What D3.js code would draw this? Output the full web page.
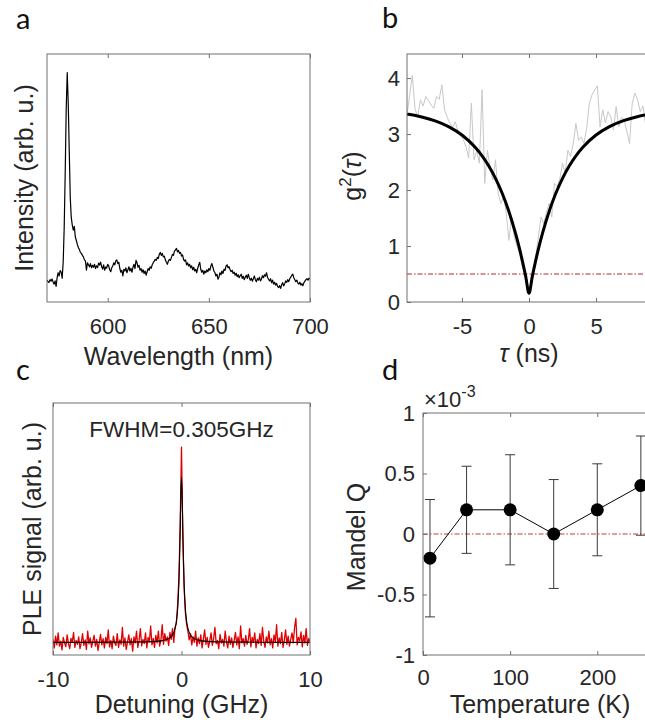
<!DOCTYPE html>
<html>
<head>
<meta charset="utf-8">
<script src="https://cdn.jsdelivr.net/npm/d3@7"></script>
<style>
  html, body { margin: 0; padding: 0; background: #fff; overflow: hidden; }
  svg { display: block; font-family: "Liberation Sans", Arial, sans-serif; }
</style>
</head>
<body>
<svg id="fig" width="645" height="723"></svg>
<script>
// ---------- (a) photoluminescence spectrum, 0.5 nm sampling from 570 nm ----------
const specStart = 570, specStep = 0.5;
const specIntensity = [
  .088,.082,.079,.090,.084,.093,.081,.072,.085,.063,
  .098,.118,.105,.127,.121,.096,.160,.300,.520,.780,
  .925,.800,.610,.420,.340,.310,.290,.305,.262,.248,
  .232,.220,.212,.200,.196,.188,.182,.170,.166,.128,
  .158,.150,.142,.155,.138,.148,.140,.152,.135,.146,
  .139,.157,.149,.161,.143,.133,.150,.128,.141,.137,
  .152,.146,.130,.122,.138,.145,.158,.150,.166,.170,
  .155,.160,.135,.120,.128,.105,.132,.125,.138,.118,
  .130,.142,.125,.136,.120,.140,.152,.135,.168,.158,
  .140,.148,.128,.135,.120,.130,.115,.125,.108,.122,
  .135,.128,.142,.136,.150,.158,.165,.172,.168,.180,
  .175,.192,.200,.188,.196,.182,.185,.170,.160,.152,
  .165,.172,.168,.180,.192,.188,.205,.210,.216,.202,
  .208,.196,.200,.185,.190,.172,.165,.170,.150,.158,
  .145,.152,.138,.146,.130,.140,.125,.132,.118,.136,
  .150,.160,.132,.120,.128,.112,.125,.118,.130,.122,
  .135,.128,.145,.155,.140,.125,.118,.105,.112,.092,
  .100,.118,.110,.125,.115,.132,.128,.145,.150,.138,
  .142,.130,.122,.128,.115,.120,.108,.116,.102,.110,
  .098,.106,.112,.095,.104,.090,.100,.108,.095,.112,
  .098,.088,.096,.084,.094,.105,.090,.082,.095,.088,
  .100,.085,.092,.106,.098,.110,.104,.118,.100,.092,
  .085,.094,.078,.088,.072,.080,.068,.075,.062,.058,
  .066,.055,.070,.078,.065,.074,.085,.079,.090,.082,
  .094,.100,.108,.112,.098,.090,.082,.088,.076,.072,
  .080,.068,.074,.066,.078,.084,.090,.094,.088,.096,
  .092
];
const wavelengthTicks = [600, 650, 700];

// ---------- (b) second-order correlation, 0.2 ns bins from -9.1 ns ----------
const g2Start = -9.1, g2Step = 0.2;
const g2Raw = [
  3.35,3.70,4.05,3.45,3.31,3.61,3.50,3.67,3.60,3.52,
  3.46,3.67,3.62,3.88,3.43,3.30,3.19,3.12,3.22,3.05,
  2.96,2.90,2.78,2.57,3.55,2.54,2.70,2.48,3.79,2.12,
  2.71,2.40,2.18,2.54,1.94,1.76,1.88,1.60,1.10,1.52,
  1.16,1.00,0.87,0.63,0.50,0.30,0.28,0.52,0.81,1.16,
  1.52,1.40,1.60,1.76,1.52,2.12,2.06,2.20,2.48,2.30,
  2.71,2.60,2.83,3.19,2.89,2.95,2.83,3.10,3.55,3.70,
  3.79,3.86,3.13,3.43,3.20,3.40,3.31,3.07,3.49,3.13,
  3.30,3.25,3.05,2.83,3.55,3.73,3.61,3.40,3.50,3.16,
  3.30,3.25
];
const g2FitTau = [-9.1,-9,-8,-7,-6,-5,-4,-3.5,-3,-2.5,-2,-1.5,-1,-0.75,-0.5,-0.25,0,
                  0.25,0.5,0.75,1,1.5,2,2.5,3,3.5,4,5,6,7,8,9,9.1];
const g2FitVal = [3.355,3.352,3.305,3.236,3.134,2.983,2.759,2.610,2.429,2.209,1.942,1.616,1.220,0.992,0.740,0.462,0.155,
                  0.462,0.740,0.992,1.220,1.616,1.942,2.209,2.429,2.610,2.759,2.983,3.134,3.236,3.305,3.352,3.355];
const g2Threshold = 0.5;
const tauTicks = [-5, 0, 5];
const g2Ticks = [0, 1, 2, 3, 4];

// ---------- (c) PLE scan, 0.1 GHz steps from -10 GHz ----------
const pleStart = -10, pleStep = 0.1;
const pleSignal = [
  62,28,75,40,88,35,55,20,70,48,
  33,80,45,25,66,52,90,30,58,42,
  72,25,48,85,38,60,22,95,44,68,
  30,55,78,35,62,18,50,82,40,65,
  28,70,45,100,32,58,25,75,48,38,
  85,30,60,42,110,35,68,22,52,80,
  40,65,15,72,48,95,30,58,105,36,
  62,45,88,28,70,52,115,40,66,30,
  78,48,95,35,60,120,42,85,55,72,
  38,90,62,105,50,110,125,200,310,520,
  825,470,270,170,120,95,60,85,40,72,
  50,95,35,68,45,80,28,62,100,42,
  70,30,55,88,38,65,110,45,58,25,
  82,48,62,35,95,52,28,75,42,68,
  30,58,90,40,72,25,115,48,65,35,
  78,42,60,105,32,70,50,88,28,62,
  45,85,38,110,55,30,72,48,95,40,
  65,28,80,52,120,35,68,45,90,30,
  58,100,42,75,35,62,88,48,110,145,
  40,70,55,92,32,78,48,105,38,66,
  52
];
const pleFitX = [-10,-5,-3,-2,-1.5,-1,-0.75,-0.5,-0.4,-0.3,-0.2,-0.1525,-0.1,-0.05,0,
                 0.05,0.1,0.1525,0.2,0.3,0.4,0.5,0.75,1,1.5,2,3,5,10];
const pleFitY = [50,51,52,54,57,65,76,106,133,184,291,378,508,641,705,
                 641,508,378,291,184,133,106,76,65,57,54,52,51,50];
const detuningTicks = [-10, 0, 10];

// ---------- (d) Mandel Q versus temperature (units of 1e-3) ----------
const temperature = [8, 50, 100, 150, 200, 250];
const mandelQ = [-0.2, 0.2, 0.2, 0.0, 0.2, 0.4];
const mandelErr = [0.485, 0.36, 0.455, 0.45, 0.38, 0.41];
const tempTicks = [0, 100, 200];
const qTicks = [-1, -0.5, 0, 0.5, 1];

// ---------- drawing ----------
const svg = d3.select("#fig");
const textColor = "#262626";
const boxColor = "#707070";
const plain = d => String(d);

function frame(box, x, y, xTicks, yTicks, xPad, yPad) {
  const g = svg.append("g");
  g.append("g").attr("transform", `translate(0,${box.y1})`)
    .call(d3.axisBottom(x).tickValues(xTicks).tickSize(-4).tickPadding(xPad).tickFormat(plain));
  g.append("g").attr("transform", `translate(0,${box.y0})`)
    .call(d3.axisTop(x).tickValues(xTicks).tickSize(-4).tickFormat(""));
  if (yTicks) {
    g.append("g").attr("transform", `translate(${box.x0},0)`)
      .call(d3.axisLeft(y).tickValues(yTicks).tickSize(-4).tickPadding(yPad).tickFormat(plain));
  }
  g.selectAll(".domain").remove();
  g.selectAll("g").attr("font-family", null).attr("font-size", null);
  g.selectAll(".tick line").attr("stroke", boxColor);
  g.selectAll(".tick text").attr("fill", textColor).style("font-size", "22px");
  g.append("rect")
    .attr("x", box.x0).attr("y", box.y0)
    .attr("width", box.x1 - box.x0).attr("height", box.y1 - box.y0)
    .attr("fill", "none").attr("stroke", boxColor).attr("stroke-width", 1);
  return g;
}

function clip(id, box) {
  svg.append("clipPath").attr("id", id).append("rect")
    .attr("x", box.x0).attr("y", box.y0)
    .attr("width", box.x1 - box.x0).attr("height", box.y1 - box.y0);
  return `url(#${id})`;
}

function panelLetter(s, x, yb) {
  svg.append("text").attr("x", x).attr("y", yb).text(s)
    .style("font-family", "Lato, 'Open Sans', sans-serif").style("font-size", "29px").attr("fill", "#111");
}

function xLabel(s, x, yb) {
  return svg.append("text").attr("x", x).attr("y", yb).attr("text-anchor", "middle")
    .attr("fill", textColor).style("font-size", "25px").text(s);
}

function yLabel(s, x, yc) {
  return svg.append("text").attr("transform", `translate(${x},${yc}) rotate(-90)`)
    .attr("text-anchor", "middle").attr("fill", textColor).style("font-size", "25px").text(s);
}

// ---- panel a ----
{
  const box = { x0: 47, x1: 310, y0: 54, y1: 302 };
  const x = d3.scaleLinear().domain([570, 700]).range([box.x0, box.x1]);
  const y = d3.scaleLinear().domain([0, 1]).range([box.y1, box.y0]);
  const pts = specIntensity.map((v, i) => [specStart + i * specStep, v]);
  svg.append("path").datum(pts)
    .attr("clip-path", clip("clipA", box))
    .attr("fill", "none").attr("stroke", "#000").attr("stroke-width", 1.2).attr("stroke-linejoin", "round")
    .attr("d", d3.line().x(d => x(d[0])).y(d => y(d[1])));
  frame(box, x, y, wavelengthTicks, null, 16.4, 0);
  xLabel("Wavelength (nm)", (box.x0 + box.x1) / 2, 365);
  yLabel("Intensity (arb. u.)", 33, (box.y0 + box.y1) / 2);
  panelLetter("a", 16, 29);
}

// ---- panel b ----
{
  const box = { x0: 407, x1: 651, y0: 54, y1: 302 };
  const x = d3.scaleLinear().domain([-9.1, 9.1]).range([box.x0, box.x1]);
  const y = d3.scaleLinear().domain([0, 4.43]).range([box.y1, box.y0]);
  const cp = clip("clipB", box);
  const raw = g2Raw.map((v, i) => [g2Start + i * g2Step, v]);
  svg.append("path").datum(raw).attr("clip-path", cp)
    .attr("fill", "none").attr("stroke", "#c8c8c8").attr("stroke-width", 1)
    .attr("d", d3.line().x(d => x(d[0])).y(d => y(d[1])));
  svg.append("line").attr("clip-path", cp)
    .attr("x1", box.x0).attr("x2", box.x1).attr("y1", y(g2Threshold)).attr("y2", y(g2Threshold))
    .attr("stroke", "#b22a2a").attr("stroke-width", 1).attr("stroke-dasharray", "5,2,1.5,2");
  svg.append("path").datum(g2FitTau.map((t, i) => [t, g2FitVal[i]])).attr("clip-path", cp)
    .attr("fill", "none").attr("stroke", "#000").attr("stroke-width", 3).attr("stroke-linejoin", "round")
    .attr("d", d3.line().x(d => x(d[0])).y(d => y(d[1])).curve(d3.curveMonotoneX));
  frame(box, x, y, tauTicks, g2Ticks, 16.4, 7);
  const xl = xLabel("", (box.x0 + box.x1) / 2, 362);
  xl.append("tspan").style("font-style", "italic").text("τ");
  xl.append("tspan").text(" (ns)");
  const yl = yLabel("", 361, 176);
  yl.append("tspan").text("g");
  yl.append("tspan").attr("dy", -10).style("font-size", "17px").text("2");
  yl.append("tspan").attr("dy", 10).text("(");
  yl.append("tspan").style("font-style", "italic").text("τ");
  yl.append("tspan").text(")");
  panelLetter("b", 382, 28);
}

// ---- panel c ----
{
  const box = { x0: 53, x1: 310, y0: 403, y1: 655 };
  const x = d3.scaleLinear().domain([-10, 10]).range([box.x0, box.x1]);
  const y = d3.scaleLinear().domain([0, 1000]).range([box.y1, box.y0]);
  const cp = clip("clipC", box);
  const data = pleSignal.map((v, i) => [pleStart + i * pleStep, v]);
  svg.append("path").datum(data).attr("clip-path", cp)
    .attr("fill", "none").attr("stroke", "#e00000").attr("stroke-width", 1.3).attr("stroke-linejoin", "round")
    .attr("d", d3.line().x(d => x(d[0])).y(d => y(d[1])));
  svg.append("path").datum(pleFitX.map((v, i) => [v, pleFitY[i]])).attr("clip-path", cp)
    .attr("fill", "none").attr("stroke", "#000").attr("stroke-width", 1.1)
    .attr("d", d3.line().x(d => x(d[0])).y(d => y(d[1])).curve(d3.curveMonotoneX));
  frame(box, x, y, detuningTicks, null, 16.4, 0);
  svg.append("text").attr("x", (box.x0 + box.x1) / 2).attr("y", 437).attr("text-anchor", "middle")
    .attr("fill", textColor).style("font-size", "22.5px").text("FWHM=0.305GHz");
  xLabel("Detuning (GHz)", (box.x0 + box.x1) / 2, 713);
  yLabel("PLE signal (arb. u.)", 41, (box.y0 + box.y1) / 2);
  panelLetter("c", 16, 380);
}

// ---- panel d ----
{
  const box = { x0: 423, x1: 667, y0: 413, y1: 655 };
  const x = d3.scaleLinear().domain([0, 280]).range([box.x0, box.x1]);
  const y = d3.scaleLinear().domain([-1, 1]).range([box.y1, box.y0]);
  const cp = clip("clipD", box);
  svg.append("line").attr("clip-path", cp)
    .attr("x1", box.x0).attr("x2", box.x1).attr("y1", y(0)).attr("y2", y(0))
    .attr("stroke", "#c83a3a").attr("stroke-width", 1).attr("stroke-dasharray", "5,2,1.5,2");
  const g = svg.append("g");
  temperature.forEach((t, i) => {
    const lo = y(mandelQ[i] - mandelErr[i]), hi = y(mandelQ[i] + mandelErr[i]);
    g.append("line").attr("x1", x(t)).attr("x2", x(t)).attr("y1", lo).attr("y2", hi)
      .attr("stroke", "#3a3a3a").attr("stroke-width", 1);
    [lo, hi].forEach(v => g.append("line").attr("x1", x(t) - 5).attr("x2", x(t) + 5)
      .attr("y1", v).attr("y2", v).attr("stroke", "#3a3a3a").attr("stroke-width", 1));
  });
  g.append("path").datum(temperature.map((t, i) => [t, mandelQ[i]]))
    .attr("fill", "none").attr("stroke", "#000").attr("stroke-width", 1)
    .attr("d", d3.line().x(d => x(d[0])).y(d => y(d[1])));
  g.selectAll("circle").data(temperature).join("circle")
    .attr("cx", d => x(d)).attr("cy", (d, i) => y(mandelQ[i])).attr("r", 6.5).attr("fill", "#000");
  frame(box, x, y, tempTicks, qTicks, 14.4, 8);
  const ex = svg.append("text").attr("x", 424).attr("y", 407).attr("fill", textColor).style("font-size", "22px");
  ex.append("tspan").text("×10");
  ex.append("tspan").attr("dy", -10).style("font-size", "16px").text("-3");
  xLabel("Temperature (K)", 540, 713);
  yLabel("Mandel Q", 365, 537);
  panelLetter("d", 382, 380);
}
</script>
</body>
</html>
